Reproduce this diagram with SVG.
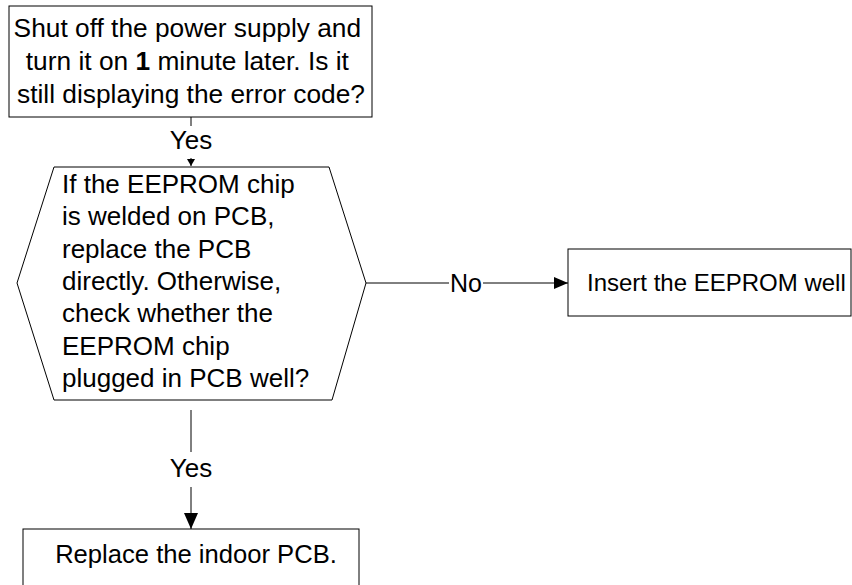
<svg xmlns="http://www.w3.org/2000/svg" width="852" height="585" viewBox="0 0 852 585">
<style>
.shape{fill:#fff;stroke:#000;stroke-width:1}
.t{font-family:"Liberation Sans",Arial,sans-serif;fill:#000}
.c{stroke:#000;stroke-width:1;fill:none}
</style>
<defs>
<marker id="ah" markerWidth="14" markerHeight="12" refX="14" refY="6" orient="auto" markerUnits="userSpaceOnUse"><path d="M0,0 L14,6 L0,12 Z" fill="#000"/></marker>
<marker id="ahs" markerWidth="7" markerHeight="8" refX="7" refY="4" orient="auto" markerUnits="userSpaceOnUse"><path d="M0,0 L7,4 L0,8 Z" fill="#000"/></marker>
<marker id="ahb" markerWidth="16" markerHeight="14" refX="16" refY="7" orient="auto" markerUnits="userSpaceOnUse"><path d="M0,0 L16,7 L0,14 Z" fill="#000"/></marker>
</defs>
<rect width="852" height="585" fill="#fff"/>
<g id="connectors">
<line class="c" x1="191" y1="117" x2="191" y2="126"/>
<line class="c" x1="191" y1="158" x2="191" y2="166" marker-end="url(#ahs)"/>
<text class="t" x="191" y="149" font-size="26" text-anchor="middle">Yes</text>
<line class="c" x1="366" y1="283" x2="449" y2="283"/>
<line class="c" x1="483" y1="283" x2="568" y2="283" marker-end="url(#ah)"/>
<text class="t" x="466" y="292" font-size="25" text-anchor="middle">No</text>
<line class="c" x1="191" y1="410" x2="191" y2="452"/>
<line class="c" x1="191" y1="487" x2="191" y2="529" marker-end="url(#ahb)"/>
<text class="t" x="191" y="477" font-size="26" text-anchor="middle">Yes</text>
</g>
<g id="node-power">
<rect class="shape" x="9" y="6" width="363" height="111"/>
<text class="t" font-size="26.3" text-anchor="middle">
<tspan x="191" y="37">Shut off the power supply and</tspan>
<tspan x="191" y="70">turn it on <tspan font-weight="bold">1</tspan> minute later. Is it</tspan>
<tspan x="191" y="103">still displaying the error code?</tspan>
</text>
</g>
<g id="node-eeprom">
<polygon class="shape" points="54,167 329,167 366,283 332,400 54,400 17,283"/>
<text class="t" font-size="26">
<tspan x="62" y="193">If the EEPROM chip</tspan>
<tspan x="62" y="225">is welded on PCB,</tspan>
<tspan x="62" y="258">replace the PCB</tspan>
<tspan x="62" y="290">directly. Otherwise,</tspan>
<tspan x="62" y="322">check whether  the</tspan>
<tspan x="62" y="355">EEPROM chip</tspan>
<tspan x="62" y="387">plugged in PCB well?</tspan>
</text>
</g>
<g id="node-insert">
<rect class="shape" x="568" y="249" width="283" height="67"/>
<text class="t" x="587" y="291" font-size="24">Insert the EEPROM well</text>
</g>
<g id="node-replace">
<rect class="shape" x="23" y="529" width="336" height="70"/>
<text class="t" x="196" y="563" font-size="25.6" text-anchor="middle">Replace the indoor PCB.</text>
</g>
</svg>
